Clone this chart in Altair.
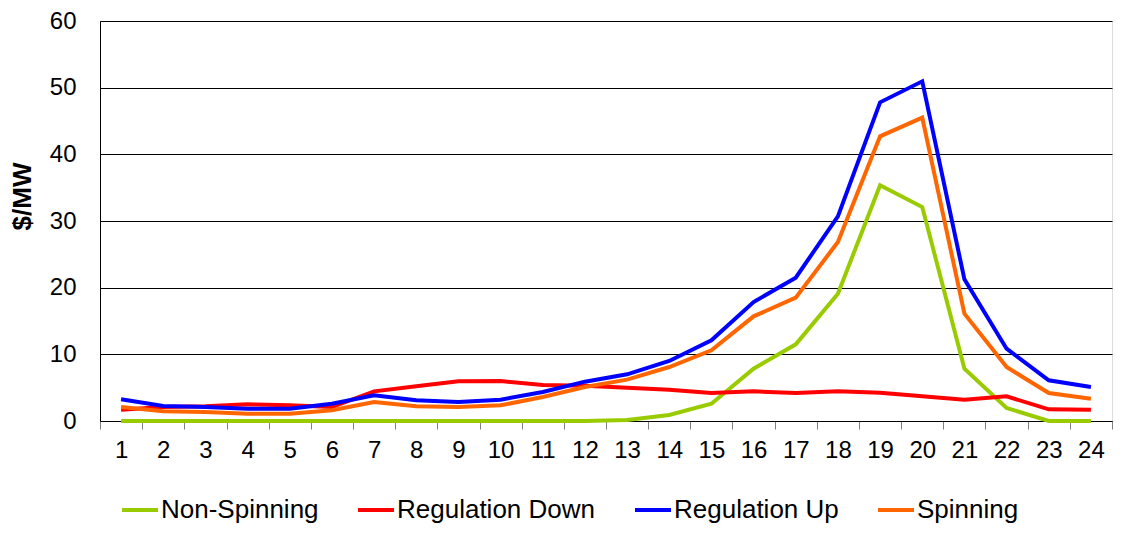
import altair as alt
import pandas as pd

hours = list(range(1, 25))
series_names = ["Non-Spinning", "Regulation Down", "Regulation Up", "Spinning"]
series_colors = ["#99CC00", "#FF0000", "#0000FF", "#FF6600"]

non_spinning = [0, 0, 0, 0, 0, 0, 0, 0, 0, 0, 0, 0, 0.15, 0.9, 2.6, 7.85,
                11.5, 19.1, 35.35, 32.1, 7.85, 1.95, 0, 0]
regulation_down = [1.7, 2.1, 2.2, 2.5, 2.35, 2.1, 4.45, 5.2, 5.95, 6.0, 5.4, 5.3,
                   5.0, 4.7, 4.2, 4.45, 4.2, 4.45, 4.25, 3.7, 3.2, 3.7, 1.75, 1.7]
regulation_up = [3.25, 2.25, 2.1, 1.85, 1.85, 2.6, 3.85, 3.1, 2.85, 3.2, 4.35, 5.9,
                 7.0, 9.0, 12.1, 17.85, 21.5, 30.7, 47.8, 50.95, 21.25, 10.85, 6.1, 5.1]
spinning = [2.1, 1.45, 1.35, 1.1, 1.1, 1.6, 2.85, 2.2, 2.1, 2.35, 3.6, 5.1,
            6.2, 8.1, 10.6, 15.7, 18.5, 26.85, 42.7, 45.5, 16.1, 8.1, 4.2, 3.35]

y_ticks = [0, 10, 20, 30, 40, 50, 60]

rows = []
for name, vals in zip(series_names, [non_spinning, regulation_down, regulation_up, spinning]):
    for h, v in zip(hours, vals):
        rows.append({"hour": h, "value": v, "series": name})
df = pd.DataFrame(rows)

FONT = "Liberation Sans"

chart = alt.Chart(df).mark_line(strokeWidth=4).encode(
    x=alt.X("hour:O",
            scale=alt.Scale(type="band", paddingInner=0, paddingOuter=0),
            axis=alt.Axis(title=None, labelAngle=0, labelFont=FONT, labelFontSize=24,
                          labelColor="black", tickColor="#808080", tickSize=8,
                          tickBand="extent", domainColor="black", labelPadding=9,
                          grid=False)),
    y=alt.Y("value:Q",
            scale=alt.Scale(domain=[0, 60], nice=False),
            axis=alt.Axis(title="$/MW", values=y_ticks, ticks=False, labelFont=FONT,
                          labelFontSize=24, labelColor="black", labelPadding=24,
                          domainColor="black", gridColor="black", gridWidth=1,
                          titleFont=FONT, titleFontSize=26, titleFontWeight="bold",
                          titleColor="black", titleX=-78, titleY=175,
                          titleAlign="center", titleBaseline="middle", titleAngle=270)),
    color=alt.Color("series:N",
                    scale=alt.Scale(domain=series_names, range=series_colors),
                    legend=alt.Legend(title=None, orient="none", legendX=20, legendY=469,
                                      direction="horizontal", symbolType="stroke",
                                      symbolSize=1296, symbolStrokeWidth=4,
                                      labelFont=FONT, labelFontSize=26, labelColor="black",
                                      labelOffset=1, columnPadding=31, labelLimit=400,
                                      padding=0)),
).properties(
    width=1012,
    height=400,
    autosize=alt.AutoSizeParams(type="none"),
    padding={"left": 92, "top": 13, "right": 2, "bottom": 105},
).configure_view(
    stroke="#808080", strokeWidth=1
).configure(background="white")

chart.save("out.html", embed_options={"renderer": "svg", "actions": False})
